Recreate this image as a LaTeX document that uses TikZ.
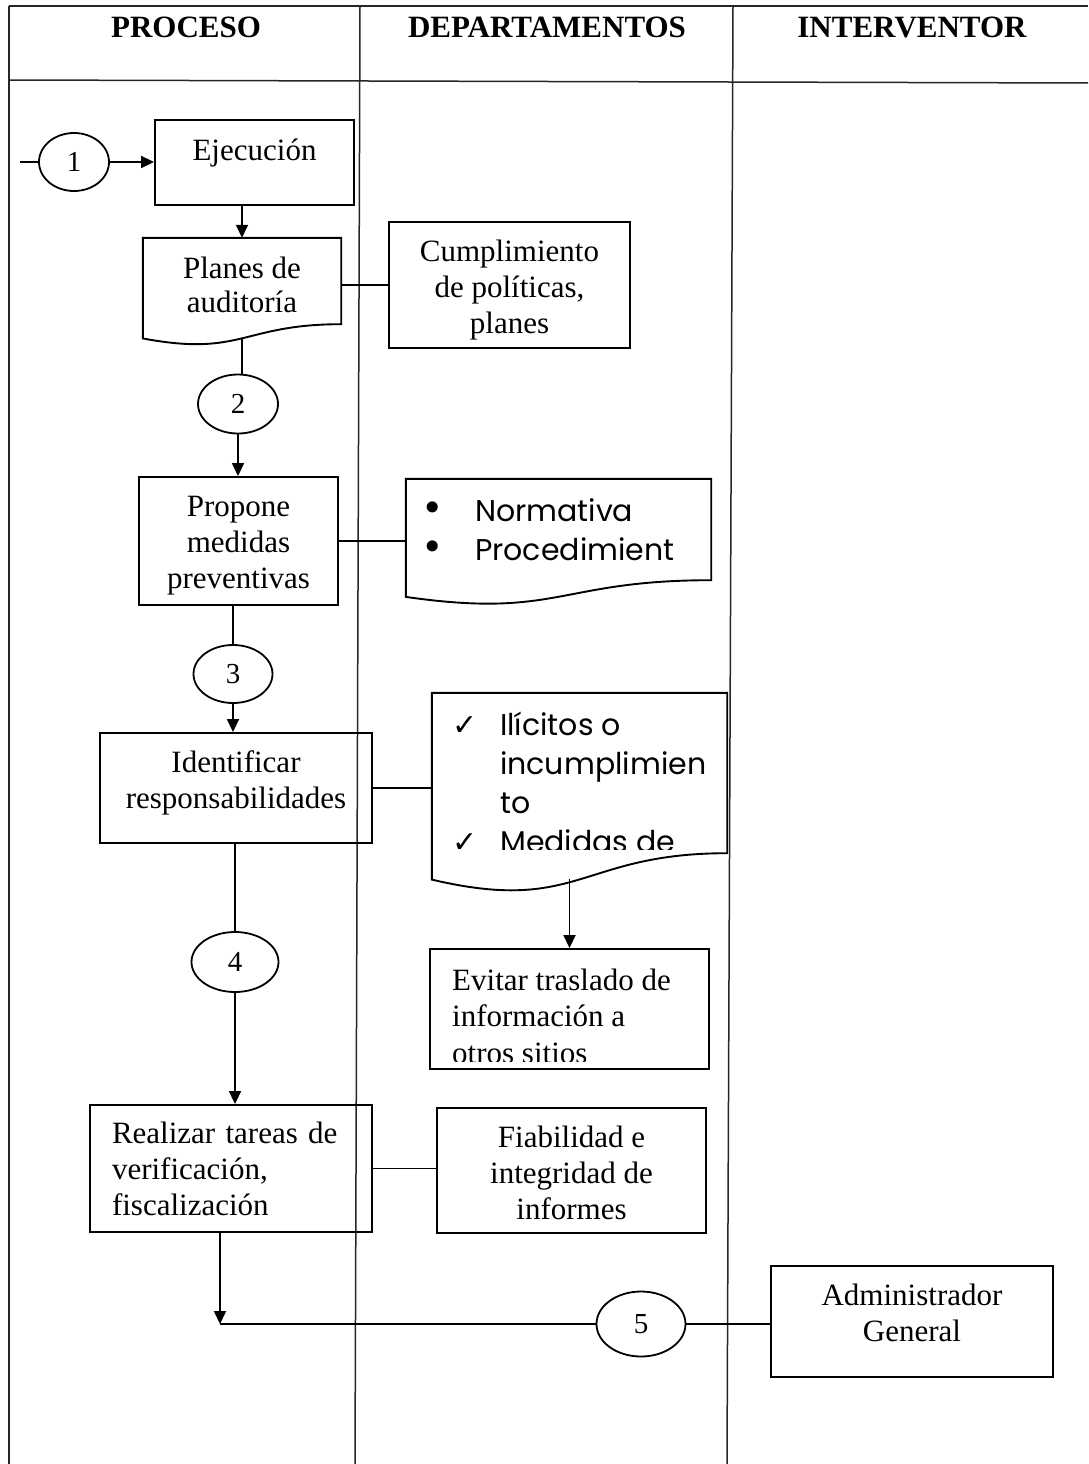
\documentclass[tikz,border=0pt]{standalone}
\usepackage{fontspec}
\setmainfont{Liberation Serif}
\newfontfamily\gothic{Poppins}
\newfontfamily\symb{DejaVu Sans}
\usetikzlibrary{shapes.geometric,arrows.meta,calc}

% bullet and check-mark item markers
\newcommand\bul{\makebox[54pt][l]{{\symb\fontsize{38}{38}\selectfont •}}}
\newcommand\chk{\makebox[48pt][l]{{\symb\fontsize{30}{30}\selectfont ✓}}}
% centred lines of text whose first baseline sits #1 above the node centre
\newcommand\rows[2]{\raisebox{#1}[0pt][0pt]{\begin{tabular}[t]{@{}c@{}}#2\end{tabular}}}

% flowchart "document" outline around a node: straight top and sides, wavy bottom
\newcommand\docoutline[1]{%
  \draw[docline] let \p1=(#1.north west), \p2=(#1.south east), \n1={\y1-\y2} in
    (\p1) -- (\x2,\y1) -- (\p2)
    .. controls ({(\x1+\x2)/2},\y2) and ({(\x1+\x2)/2},{\y2-0.3815*\n1}) ..
    coordinate[pos=0.5] (#1-wave) (\x1,{\y2-0.1646*\n1}) -- cycle;}

\tikzset{
  grid/.style={line width=1.5pt, black!85},
  head/.style={inner sep=0pt, font=\fontsize{31}{36}\selectfont\bfseries},
  serif/.style={font=\fontsize{31}{36}\selectfont},
  box/.style={serif, draw, line width=1.9pt, inner sep=0pt},
  doc/.style={serif, inner sep=0pt},
  docline/.style={line width=1.9pt},
  oval/.style={draw, ellipse, line width=1.8pt, inner sep=0pt, font=\fontsize{29}{30}\selectfont},
  link/.style={line width=1.8pt},
  flow/.style={link, -{Triangle[length=13pt,width=12pt]}},
  bus/.style={line width=2.8pt},
  gtext/.style={font=\gothic\fontsize{30}{39}\selectfont, inner sep=0pt},
}

\begin{document}
\begin{tikzpicture}[x=1pt, y=-1pt]
\useasboundingbox (0,0) rectangle (1088,1464);

% swimlane table
\draw[grid] (9,6) -- (1088,6);
\draw[grid] (9,80) -- (1088,83);
\draw[grid] (9,6) -- (9,1464);
\draw[grid] (360,6) -- (355,1464);
\draw[grid] (733,6) -- (727,1464);

\node[head] (hproc) at (186,27) {PROCESO};
\node[head] (hdep)  at (547,27) {DEPARTAMENTOS};
\node[head] (hint)  at (912,27) {INTERVENTOR};

% process column
\coordinate (in1) at (20,162);
\node[oval, minimum width=70pt, minimum height=58pt] (c1) at (74,162) {1};
\node[box, minimum width=199pt, minimum height=85pt, text height=22pt, text depth=27pt] (ejec) at (254.5,162.5) {Ejecución};
\node[doc, minimum width=198pt, minimum height=86pt] (planes) at (242,281) {\renewcommand\arraystretch{0.97}\rows{3pt}{Planes de\\auditoría}};
\node[oval, minimum width=80pt, minimum height=59pt] (c2) at (238,404) {2};
\node[box, minimum width=199pt, minimum height=128pt] (prop) at (238.5,541) {\rows{25pt}{Propone\\medidas\\preventivas}};
\node[oval, minimum width=79pt, minimum height=58pt] (c3) at (233,674) {3};
\node[box, minimum width=272pt, minimum height=110pt] (ident) at (236,788) {\rows{16pt}{Identificar\\responsabilidades}};
\node[oval, minimum width=87pt, minimum height=60pt] (c4) at (235,962) {4};
\node[box, minimum width=282pt, minimum height=127pt, align=left, text width=238pt] (real) at (231,1168.5) {Realizar tareas de\\verificación,\\fiscalización};
\coordinate (k) at (220,1324);

% departments column
\node[box, minimum width=241pt, minimum height=126pt] (cump) at (509.5,285) {\rows{24pt}{Cumplimiento\\de políticas,\\planes}};
\node[doc, minimum width=305pt, minimum height=101pt] (norm) at (558.5,529.5) {};
\node[gtext, anchor=base west] (normtxt) at (421,521) {\vtop{\hbox{\bul Normativa}\hbox{\bul Procedimient}}};
\node[doc, minimum width=295pt, minimum height=160pt] (ilic) at (579.5,773) {};
\begin{scope}
  \clip (ilic.north west) rectangle ([yshift=4pt]ilic.south east);
  \node[gtext, anchor=base west] (iltxt) at (452,735) {\vtop{\hbox{\chk Ilícitos o}\hbox{\hspace*{48pt}incumplimien}\hbox{\hspace*{48pt}to}\hbox{\chk Medidas de}}};
\end{scope}
\node[box, minimum width=279pt, minimum height=120pt] (evit) at (569.5,1009) {};
\begin{scope}
  \clip (evit.north west) rectangle ([yshift=8pt]evit.south east);
  \node[serif, inner sep=0pt, anchor=base west, font=\fontsize{31}{36.5}\selectfont] (evtxt) at (452,990) {\vtop{\hbox{Evitar traslado de}\hbox{información a}\hbox{otros sitios}}};
\end{scope}
\node[box, minimum width=269pt, minimum height=125pt] (fiab) at (571.5,1170.5) {\rows{23pt}{Fiabilidad e\\integridad de\\informes}};
\node[oval, minimum width=89pt, minimum height=65pt] (c5) at (641,1324) {5};

% auditor column
\node[box, minimum width=282pt, minimum height=111pt] (admin) at (912,1321.5) {\rows{16pt}{Administrador\\General}};

% document outlines
\docoutline{planes}
\docoutline{norm}
\docoutline{ilic}

% connectors
\draw[link] (in1) -- (c1.west);
\draw[flow] (c1.east) -- (ejec.west |- c1);
\draw[flow] (planes.north |- ejec.south) -- (planes.north);
\draw[link] (planes.east |- cump) -- (cump.west);
\draw[link] (planes-wave) -- (planes-wave |- c2.north);
\draw[flow] (c2.south) -- (c2.south |- prop.north);
\draw[link] (prop.east) -- (prop.east -| norm.west);
\draw[link] (c3.north |- prop.south) -- (c3.north);
\draw[flow] (c3.south) -- (c3.south |- ident.north);
\draw[link] (ident.east) -- (ident.east -| ilic.west);
\draw[flow] (evit.north |- ilic-wave) -- (evit.north);
\draw[link] (c4.north |- ident.south) -- (c4.north);
\draw[flow] (c4.south) -- (c4.south |- real.north);
\draw[link] (real.east) -- (real.east -| fiab.west);
\draw[flow] (k |- real.south) -- (k);
\draw[bus] (k) -- (c5.west);
\draw[bus] (c5.east) -- (admin.west |- c5);
\end{tikzpicture}
\end{document}
